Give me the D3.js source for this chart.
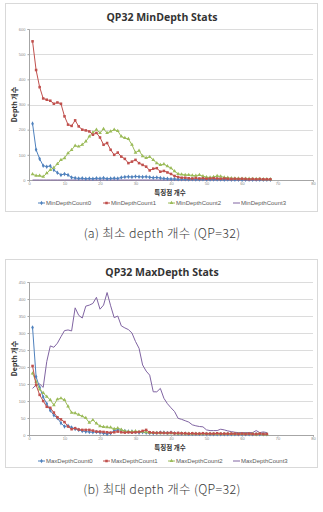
<!DOCTYPE html>
<html>
<head>
<meta charset="utf-8">
<script src="https://cdn.jsdelivr.net/npm/d3@7"></script>
<style>
  body { margin: 0; background: #fff; }
  svg { display: block; }
</style>
</head>
<body>
<svg id="chart" width="323" height="512"></svg>
<script>
// ---- data ----
const xTicks = [0, 10, 20, 30, 40, 50, 60, 70, 80];

const minTicks = [0, 100, 200, 300, 400, 500, 600];
const minNames = ["MinDepthCount0", "MinDepthCount1", "MinDepthCount2", "MinDepthCount3"];
const minCount0 = [224,120,84,57,53,56,40,29,20,24, 20,10,8,6,7,5,6,5,7,6, 8,5,6,7,6,10,12,13,12,14,
  13,12,13,11,9,10,8,6,5,4, 4,3,3,3,2,3,2,2,3,2, 2,2,2,2,1,2,1,1,1,1, 1,1,1,1,1,1,1,1];
const minCount1 = [551,437,369,324,319,315,303,308,303,253, 220,215,237,213,200,197,193,180,187,169,
  140,147,120,100,109,93,84,67,73,80, 67,60,53,38,45,47,33,36,30,24, 16,12,9,9,7,6,8,6,7,5,
  6,7,6,5,6,5,4,5,4,5, 4,3,4,3,4,3,3,3];
const minCount2 = [23,17,17,13,27,40,49,64,80,87, 107,120,136,133,140,153,173,189,200,187,
  203,187,193,200,195,173,167,163,140,109, 117,95,88,92,80,67,60,63,55,47, 35,24,22,20,20,18,17,20,15,11,
  10,12,16,14,10,9,7,6,6,5, 5,5,4,4,4,3,3,3];
const minCount3 = [0,0,0,0,0,0,0,0,0,0, 0,0,0,0,0,0,0,0,0,0, 0,0,0,0,0,0,0,0,0,0,
  0,0,0,0,0,0,0,0,0,0, 0,0,0,0,0,0,0,0,0,0, 0,0,0,0,0,0,0,0,0,0, 0,0,0,0,0,0,0,0];

const maxTicks = [0, 50, 100, 150, 200, 250, 300, 350, 400, 450];
const maxNames = ["MaxDepthCount0", "MaxDepthCount1", "MaxDepthCount2", "MaxDepthCount3"];
const maxCount0 = [316,171,140,112,92,72,58,50,35,25, 27,22,18,15,12,10,9,8,9,7, 5,3,5,13,15,14,12,10,10,9,
  7,8,7,6,5,6,7,7,6,7, 5,4,4,4,3,3,3,3,3,3, 2,2,2,2,2,2,2,2,2,2, 2,2,2,2,2,2,2];
const maxCount1 = [203,147,118,100,83,80,66,52,46,38, 25,17,20,16,15,15,15,13,10,10, 9,8,7,8,10,8,7,8,7,8,
  9,12,15,8,7,6,7,6,6,7, 5,6,5,5,4,5,4,4,5,4, 4,4,5,4,4,4,4,4,3,4, 3,4,3,3,4,3,3];
const maxCount2 = [181,157,134,124,113,103,88,105,108,103, 84,66,64,60,55,50,36,44,34,26, 24,23,22,18,20,16,11,10,10,11,
  9,10,8,7,6,6,5,6,5,5, 5,4,5,4,4,4,4,3,4,3, 4,3,3,3,3,3,3,3,3,3, 3,3,3,2,3,2,2];
const maxCount3 = [137,147,150,140,216,262,258,270,289,307, 309,306,374,352,344,379,382,387,405,370,
  382,419,380,345,350,321,315,310,300,275, 255,206,188,176,127,127,137,108,92,80,
  69,49,46,42,38,30,27,25,24,15, 13,13,13,17,15,12,10,8,7,7, 7,7,7,13,7,9,7];

const colors = ["#4F81BD", "#C0504D", "#9BBB59", "#8064A2"];
const symbols = [d3.symbolDiamond, d3.symbolSquare, d3.symbolTriangle, null];
const symSize = [6, 6.5, 6, 0];

const svg = d3.select("#chart");
svg.append("rect").attr("width", 323).attr("height", 512).attr("fill", "#fff");

// one Excel-style chart block; top = offset of the block, plot runs from pTop to pBot inside it
function drawChart(o) {
  const g = svg.append("g").attr("transform", `translate(0,${o.top})`);
  g.append("rect").attr("x", 5.5).attr("y", 3.5).attr("width", 312).attr("height", 208)
    .attr("fill", "#fff").attr("stroke", "#d9d9d9");

  g.append("text").attr("x", 162).attr("y", o.titleY).attr("text-anchor", "middle")
    .attr("font-family", "Open Sans, sans-serif").attr("font-weight", "bold")
    .attr("font-size", 10.5).attr("fill", "#333").text(o.title);

  const x = d3.scaleLinear().domain([0, 80]).range([29, 313]);
  const y = d3.scaleLinear().domain([0, o.ticks[o.ticks.length - 1]]).range([o.pBot, o.pTop]);

  // gridlines
  g.append("g").selectAll("line").data(o.ticks.slice(1)).join("line")
    .attr("x1", 29).attr("x2", 313)
    .attr("y1", d => Math.round(y(d)) + 0.5).attr("y2", d => Math.round(y(d)) + 0.5)
    .attr("stroke", "#dcdcdc").attr("stroke-width", 1);

  const yAxis = g.append("g").attr("transform", "translate(29,0)")
    .call(d3.axisLeft(y).tickValues(o.ticks).tickSize(1.5).tickPadding(2));
  const xAxis = g.append("g").attr("transform", `translate(0,${o.pBot})`)
    .call(d3.axisBottom(x).tickValues(xTicks).tickSize(1.5).tickPadding(0.5));
  [yAxis, xAxis].forEach(a => {
    a.select(".domain").attr("stroke", "#a6a6a6");
    a.selectAll(".tick line").attr("stroke", "#a6a6a6");
    a.selectAll("text").attr("font-size", 4).attr("fill", "#888")
      .attr("font-family", "Liberation Sans, sans-serif");
  });

  // axis titles
  g.append("text").attr("x", 170).attr("y", o.pBot + 15).attr("text-anchor", "middle")
    .attr("font-family", "Noto Sans CJK KR, sans-serif").attr("font-weight", "bold")
    .attr("font-size", 6.5).attr("fill", "#333").text("특징점 개수");
  g.append("text").attr("transform", `translate(17,${(o.pTop + o.pBot) / 2}) rotate(-90)`)
    .attr("text-anchor", "middle")
    .attr("font-family", "Noto Sans CJK KR, sans-serif").attr("font-weight", "bold")
    .attr("font-size", 7).attr("fill", "#333").text("Depth 개수");

  const line = d3.line().x((d, i) => x(i + 1)).y(d => y(d));

  // purple first so the others sit on top, as in the reference
  [3, 0, 2, 1].forEach(k => {
    const vals = o.series[k];
    g.append("path").datum(vals).attr("d", line)
      .attr("fill", "none").attr("stroke", colors[k]).attr("stroke-width", 1)
      .attr("stroke-linejoin", "round");
    if (symbols[k]) {
      g.append("g").selectAll("path").data(vals).join("path")
        .attr("transform", (d, i) => `translate(${x(i + 1)},${y(d)})`)
        .attr("d", d3.symbol().type(symbols[k]).size(symSize[k]))
        .attr("fill", colors[k]);
    }
  });

  // legend
  const legX = [38, 103, 168, 233];
  const lg = g.append("g").attr("transform", `translate(0,${o.legY})`);
  o.names.forEach((name, k) => {
    lg.append("line").attr("x1", legX[k]).attr("x2", legX[k] + 7)
      .attr("y1", 0).attr("y2", 0).attr("stroke", colors[k]).attr("stroke-width", 1);
    if (symbols[k]) {
      lg.append("path").attr("transform", `translate(${legX[k] + 3.5},0)`)
        .attr("d", d3.symbol().type(symbols[k]).size(symSize[k])).attr("fill", colors[k]);
    }
    lg.append("text").attr("x", legX[k] + 8).attr("y", 2.2)
      .attr("font-family", "Liberation Sans, sans-serif").attr("font-size", 6)
      .attr("fill", "#595959").text(name);
  });

  // caption under the block
  g.append("text").attr("x", 162).attr("y", 237.5).attr("text-anchor", "middle")
    .attr("font-family", "Noto Sans CJK KR, sans-serif").attr("font-weight", 300)
    .attr("font-size", 12.5).attr("letter-spacing", 0.3).attr("fill", "#3a3a3a").text(o.caption);
}

drawChart({
  top: 0, titleY: 21, pTop: 29, pBot: 180, legY: 203,
  title: "QP32 MinDepth Stats", ticks: minTicks, names: minNames,
  series: [minCount0, minCount1, minCount2, minCount3],
  caption: "(a) 최소 depth 개수 (QP=32)"
});

drawChart({
  top: 256, titleY: 20, pTop: 26, pBot: 179, legY: 205,
  title: "QP32 MaxDepth Stats", ticks: maxTicks, names: maxNames,
  series: [maxCount0, maxCount1, maxCount2, maxCount3],
  caption: "(b) 최대 depth 개수 (QP=32)"
});
</script>
</body>
</html>
